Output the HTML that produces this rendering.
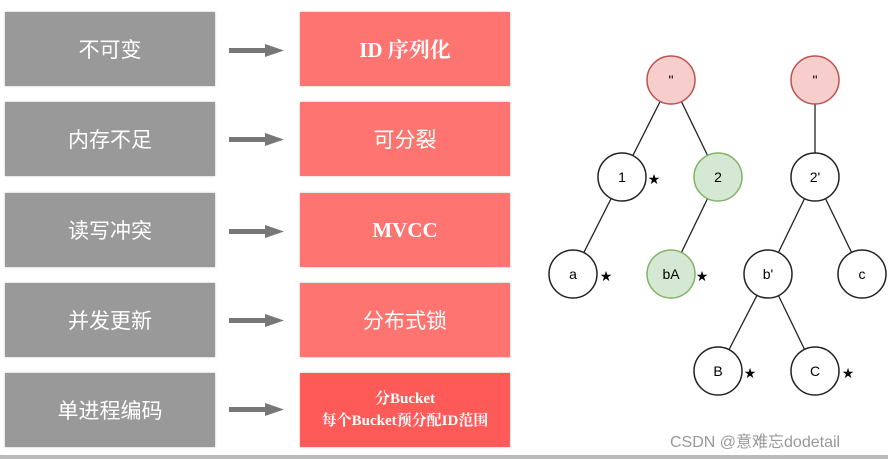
<!DOCTYPE html>
<html><head><meta charset="utf-8"><style>
body{margin:0;width:888px;height:459px;background:#fff;position:relative;overflow:hidden;font-family:"Liberation Sans","Noto Sans CJK SC",sans-serif}
.b{position:absolute;width:210px;height:74px;display:flex;align-items:center;justify-content:center;color:#fff;font-size:21px;text-align:center;box-shadow:0 0 2px #bbb}
.g{left:5px;background:#999}
.r{left:300px;background:#fe7471;font-family:"Liberation Serif","Noto Serif CJK SC",serif;font-weight:bold}
.line{position:absolute;left:0;top:455px;width:888px;height:4px;background:#bbb}
</style></head><body>
<div class="b g" style="top:12px">不可变</div>
<div class="b g" style="top:102px">内存不足</div>
<div class="b g" style="top:193px">读写冲突</div>
<div class="b g" style="top:283px">并发更新</div>
<div class="b g" style="top:373px">单进程编码</div>
<div class="b r" style="top:12px">ID 序列化</div>
<div class="b r" style="top:102px;font-family:'Liberation Sans','Noto Sans CJK SC',sans-serif;font-weight:normal">可分裂</div>
<div class="b r" style="top:193px">MVCC</div>
<div class="b r" style="top:283px;font-family:'Liberation Sans','Noto Sans CJK SC',sans-serif;font-weight:normal">分布式锁</div>
<div class="b r" style="top:373px;background:#fe5a58;font-size:15px;line-height:22px">分Bucket<br>每个Bucket预分配ID范围</div>
<svg width="888" height="459" style="position:absolute;left:0;top:0">
<g fill="#777">
<rect x="229" y="48" width="38" height="5"/><polygon points="265,44 284,50.5 265,57"/>
<rect x="229" y="137" width="38" height="5"/><polygon points="265,133 284,139.5 265,146"/>
<rect x="229" y="229" width="38" height="5"/><polygon points="265,225 284,231.5 265,238"/>
<rect x="229" y="318" width="38" height="5"/><polygon points="265,314 284,320.5 265,327"/>
<rect x="229" y="407" width="38" height="5"/><polygon points="265,403 284,409.5 265,416"/>
</g>
<g stroke="#222" stroke-width="1.3">
<line x1="671" y1="80" x2="622" y2="177"/><line x1="671" y1="80" x2="718" y2="177"/>
<line x1="622" y1="177" x2="573" y2="274"/><line x1="718" y1="177" x2="671" y2="274"/>
<line x1="815" y1="80" x2="815" y2="177"/><line x1="815" y1="177" x2="768" y2="274"/><line x1="815" y1="177" x2="862" y2="274"/>
<line x1="768" y1="274" x2="718" y2="371"/><line x1="768" y1="274" x2="815" y2="371"/>
</g>
<g stroke-width="1.5" font-size="14" text-anchor="middle" font-family="Liberation Sans,sans-serif">
<circle cx="671" cy="80" r="24" fill="#f8cecc" stroke="#b85450"/><text x="671" y="85">"</text>
<circle cx="815" cy="80" r="24" fill="#f8cecc" stroke="#b85450"/><text x="815" y="85">"</text>
<circle cx="622" cy="177" r="24" fill="#fff" stroke="#222"/><text x="622" y="182">1</text>
<circle cx="718" cy="177" r="24" fill="#d5e8d4" stroke="#82b366"/><text x="718" y="182">2</text>
<circle cx="815" cy="177" r="24" fill="#fff" stroke="#222"/><text x="815" y="182">2'</text>
<circle cx="573" cy="274" r="24" fill="#fff" stroke="#222"/><text x="573" y="279">a</text>
<circle cx="671" cy="274" r="24" fill="#d5e8d4" stroke="#82b366"/><text x="671" y="279">bA</text>
<circle cx="768" cy="274" r="24" fill="#fff" stroke="#222"/><text x="768" y="279">b'</text>
<circle cx="862" cy="274" r="24" fill="#fff" stroke="#222"/><text x="862" y="279">c</text>
<circle cx="718" cy="371" r="24" fill="#fff" stroke="#222"/><text x="718" y="376">B</text>
<circle cx="815" cy="371" r="24" fill="#fff" stroke="#222"/><text x="815" y="376">C</text>
</g>
<g font-size="14" font-family="DejaVu Sans,sans-serif" text-anchor="middle">
<text x="654" y="184">★</text><text x="606" y="281">★</text><text x="702" y="281">★</text>
<text x="750" y="378">★</text><text x="848" y="378">★</text>
</g>
<text x="670" y="447" font-size="16" fill="#999" font-family="Liberation Sans,Noto Sans CJK SC,sans-serif">CSDN @意难忘dodetail</text>
</svg>
<div class="line"></div>
</body></html>
